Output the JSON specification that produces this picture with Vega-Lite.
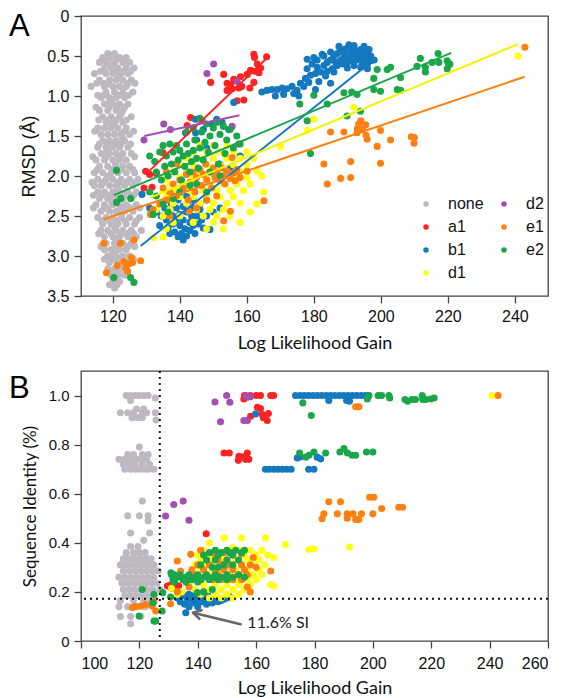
{
"$schema":"https://vega.github.io/schema/vega-lite/v6.json",
"background":"white",
"padding":{"left":8,"top":7,"right":5,"bottom":2},
"spacing":16,
"config":{
 "view":{"stroke":"#444","strokeWidth":1.3},
 "axis":{"grid":false,"domain":false,"labelOverlap":false,"tickColor":"#444","tickWidth":1.3,"tickSize":7,"labelColor":"#111","titleColor":"#111","titleFontWeight":"normal","labelFont":"Liberation Sans"}
},
"resolve":{"scale":{"color":"independent","stroke":"independent"}},
"datasets":{
"a":[
{"g":"none","x":118.5,"y":0.47},{"g":"none","x":120.5,"y":0.47},
{"g":"none","x":117,"y":0.52},{"g":"none","x":119.5,"y":0.52},{"g":"none","x":122,"y":0.52},{"g":"none","x":124,"y":0.52},
{"g":"none","x":116,"y":0.58},{"g":"none","x":118,"y":0.58},{"g":"none","x":120.5,"y":0.58},{"g":"none","x":123,"y":0.58},{"g":"none","x":125,"y":0.58},
{"g":"none","x":117.5,"y":0.65},{"g":"none","x":119.5,"y":0.65},{"g":"none","x":121.5,"y":0.65},{"g":"none","x":124,"y":0.65},{"g":"none","x":126.3,"y":0.65},
{"g":"none","x":114.5,"y":0.72},{"g":"none","x":118,"y":0.72},{"g":"none","x":120,"y":0.72},{"g":"none","x":122.5,"y":0.72},{"g":"none","x":124.5,"y":0.72},
{"g":"none","x":116,"y":0.8},{"g":"none","x":119,"y":0.8},{"g":"none","x":121,"y":0.8},{"g":"none","x":123,"y":0.8},{"g":"none","x":125.5,"y":0.8},
{"g":"none","x":113.5,"y":0.88},{"g":"none","x":117.5,"y":0.88},{"g":"none","x":120,"y":0.88},{"g":"none","x":122,"y":0.88},{"g":"none","x":124,"y":0.88},
{"g":"none","x":118,"y":0.95},{"g":"none","x":120.5,"y":0.95},{"g":"none","x":123,"y":0.95},{"g":"none","x":126,"y":0.95},
{"g":"none","x":116.5,"y":1.02},{"g":"none","x":119,"y":1.02},{"g":"none","x":121,"y":1.02},{"g":"none","x":123.5,"y":1.02},
{"g":"none","x":117.5,"y":1.1},{"g":"none","x":120,"y":1.1},{"g":"none","x":122,"y":1.1},{"g":"none","x":124.5,"y":1.1},
{"g":"none","x":116,"y":1.18},{"g":"none","x":118.5,"y":1.18},{"g":"none","x":121,"y":1.18},{"g":"none","x":123,"y":1.18},
{"g":"none","x":117,"y":1.26},{"g":"none","x":119.5,"y":1.26},{"g":"none","x":122,"y":1.26},{"g":"none","x":125.5,"y":1.26},
{"g":"none","x":118,"y":1.33},{"g":"none","x":120.5,"y":1.33},{"g":"none","x":123,"y":1.33},
{"g":"none","x":115.5,"y":1.4},{"g":"none","x":117.5,"y":1.4},{"g":"none","x":119.5,"y":1.4},{"g":"none","x":121.5,"y":1.4},{"g":"none","x":124,"y":1.4},
{"g":"none","x":116.5,"y":1.48},{"g":"none","x":118.5,"y":1.48},{"g":"none","x":120.5,"y":1.48},{"g":"none","x":122.5,"y":1.48},{"g":"none","x":125,"y":1.48},
{"g":"none","x":117,"y":1.56},{"g":"none","x":119,"y":1.56},{"g":"none","x":121,"y":1.56},{"g":"none","x":123.5,"y":1.56},
{"g":"none","x":115.5,"y":1.64},{"g":"none","x":118,"y":1.64},{"g":"none","x":120,"y":1.64},{"g":"none","x":122,"y":1.64},{"g":"none","x":124.5,"y":1.64},
{"g":"none","x":116.5,"y":1.72},{"g":"none","x":119,"y":1.72},{"g":"none","x":121,"y":1.72},{"g":"none","x":123,"y":1.72},{"g":"none","x":125.5,"y":1.72},
{"g":"none","x":115,"y":1.8},{"g":"none","x":117.5,"y":1.8},{"g":"none","x":120,"y":1.8},{"g":"none","x":122,"y":1.8},{"g":"none","x":124,"y":1.8},
{"g":"none","x":116,"y":1.88},{"g":"none","x":118.5,"y":1.88},{"g":"none","x":121,"y":1.88},{"g":"none","x":123,"y":1.88},{"g":"none","x":125,"y":1.88},
{"g":"none","x":114.5,"y":1.96},{"g":"none","x":117,"y":1.96},{"g":"none","x":119.5,"y":1.96},{"g":"none","x":121.5,"y":1.96},{"g":"none","x":124,"y":1.96},{"g":"none","x":126.5,"y":1.96},
{"g":"none","x":115.5,"y":2.04},{"g":"none","x":118,"y":2.04},{"g":"none","x":120,"y":2.04},{"g":"none","x":122.5,"y":2.04},{"g":"none","x":125,"y":2.04},{"g":"none","x":127.5,"y":2.04},
{"g":"none","x":114.5,"y":2.12},{"g":"none","x":116.5,"y":2.12},{"g":"none","x":119,"y":2.12},{"g":"none","x":121,"y":2.12},{"g":"none","x":123.5,"y":2.12},{"g":"none","x":126,"y":2.12},
{"g":"none","x":115.5,"y":2.2},{"g":"none","x":117.5,"y":2.2},{"g":"none","x":120,"y":2.2},{"g":"none","x":122,"y":2.2},{"g":"none","x":124.5,"y":2.2},{"g":"none","x":127,"y":2.2},
{"g":"none","x":116,"y":2.28},{"g":"none","x":118.5,"y":2.28},{"g":"none","x":121,"y":2.28},{"g":"none","x":123,"y":2.28},{"g":"none","x":125.5,"y":2.28},
{"g":"none","x":115,"y":2.36},{"g":"none","x":117.5,"y":2.36},{"g":"none","x":120,"y":2.36},{"g":"none","x":122,"y":2.36},{"g":"none","x":124,"y":2.36},{"g":"none","x":127,"y":2.36},
{"g":"none","x":116.5,"y":2.44},{"g":"none","x":119,"y":2.44},{"g":"none","x":121,"y":2.44},{"g":"none","x":123.5,"y":2.44},{"g":"none","x":126,"y":2.44},
{"g":"none","x":115.5,"y":2.52},{"g":"none","x":118,"y":2.52},{"g":"none","x":120,"y":2.52},{"g":"none","x":122.5,"y":2.52},{"g":"none","x":125,"y":2.52},{"g":"none","x":128,"y":2.52},
{"g":"none","x":117,"y":2.6},{"g":"none","x":119.5,"y":2.6},{"g":"none","x":121.5,"y":2.6},{"g":"none","x":124,"y":2.6},{"g":"none","x":126.5,"y":2.6},
{"g":"none","x":116.5,"y":2.68},{"g":"none","x":118.5,"y":2.68},{"g":"none","x":121,"y":2.68},{"g":"none","x":123,"y":2.68},{"g":"none","x":125.5,"y":2.68},{"g":"none","x":128.5,"y":2.68},
{"g":"none","x":117.5,"y":2.76},{"g":"none","x":120,"y":2.76},{"g":"none","x":122,"y":2.76},{"g":"none","x":124.5,"y":2.76},{"g":"none","x":127,"y":2.76},
{"g":"none","x":118,"y":2.84},{"g":"none","x":120.5,"y":2.84},{"g":"none","x":123,"y":2.84},{"g":"none","x":125.5,"y":2.84},
{"g":"none","x":117.5,"y":2.92},{"g":"none","x":119.5,"y":2.92},{"g":"none","x":122,"y":2.92},{"g":"none","x":124,"y":2.92},
{"g":"none","x":118.5,"y":3.0},{"g":"none","x":121,"y":3.0},{"g":"none","x":123,"y":3.0},{"g":"none","x":125,"y":3.0},
{"g":"none","x":119,"y":3.08},{"g":"none","x":121.5,"y":3.08},{"g":"none","x":124,"y":3.08},
{"g":"none","x":118.5,"y":3.16},{"g":"none","x":120.5,"y":3.16},{"g":"none","x":122.5,"y":3.16},
{"g":"none","x":119.5,"y":3.24},{"g":"none","x":121.5,"y":3.24},{"g":"none","x":123.5,"y":3.24},
{"g":"none","x":120,"y":3.32},{"g":"none","x":122,"y":3.32},{"g":"none","x":120.5,"y":3.4},
{"g":"none","x":118.8,"y":0.85},{"g":"none","x":121.2,"y":1.14},{"g":"none","x":119.8,"y":1.36},{"g":"none","x":122.8,"y":1.52},{"g":"none","x":118.2,"y":1.68},{"g":"none","x":120.8,"y":1.84},{"g":"none","x":118.6,"y":2.0},{"g":"none","x":121.6,"y":2.16},{"g":"none","x":119.6,"y":2.32},{"g":"none","x":122.6,"y":2.48},{"g":"none","x":120.6,"y":2.64},{"g":"none","x":121.6,"y":2.8},{"g":"none","x":120.2,"y":2.96},{"g":"none","x":122.2,"y":3.12},{"g":"none","x":119.6,"y":0.62},{"g":"none","x":121.8,"y":0.76},{"g":"none","x":119.2,"y":1.06},{"g":"none","x":122.5,"y":1.22},{"g":"none","x":120.6,"y":1.6},{"g":"none","x":124.2,"y":2.08},{"g":"none","x":117.4,"y":2.4},{"g":"none","x":124.6,"y":2.72},
{"g":"none","x":118.3,"y":0.55},{"g":"none","x":121,"y":0.55},{"g":"none","x":123.3,"y":0.55},
{"g":"none","x":116.3,"y":0.69},{"g":"none","x":120.7,"y":0.69},{"g":"none","x":123.2,"y":0.69},{"g":"none","x":125.3,"y":0.69},
{"g":"none","x":115.2,"y":0.84},{"g":"none","x":117.2,"y":0.84},{"g":"none","x":124.6,"y":0.84},{"g":"none","x":126.6,"y":0.84},
{"g":"none","x":115.5,"y":0.99},{"g":"none","x":117.3,"y":0.99},{"g":"none","x":122,"y":0.99},{"g":"none","x":124.7,"y":0.99},
{"g":"none","x":115,"y":1.14},{"g":"none","x":118.9,"y":1.14},{"g":"none","x":123.5,"y":1.14},
{"g":"none","x":115.8,"y":1.3},{"g":"none","x":118.6,"y":1.3},{"g":"none","x":121,"y":1.3},{"g":"none","x":124,"y":1.3},
{"g":"none","x":114.6,"y":1.44},{"g":"none","x":123.5,"y":1.44},{"g":"none","x":126.2,"y":1.44},
{"g":"none","x":116,"y":1.6},{"g":"none","x":118.3,"y":1.6},{"g":"none","x":122.4,"y":1.6},{"g":"none","x":125.3,"y":1.6},
{"g":"none","x":114,"y":1.76},{"g":"none","x":118,"y":1.76},{"g":"none","x":122,"y":1.76},{"g":"none","x":126.5,"y":1.76},
{"g":"none","x":115.4,"y":1.92},{"g":"none","x":120,"y":1.92},{"g":"none","x":122.5,"y":1.92},{"g":"none","x":126,"y":1.92},
{"g":"none","x":117.2,"y":2.08},{"g":"none","x":121.8,"y":2.08},{"g":"none","x":126.8,"y":2.08},{"g":"none","x":113.8,"y":2.08},
{"g":"none","x":114.2,"y":2.24},{"g":"none","x":116.8,"y":2.24},{"g":"none","x":119.2,"y":2.24},{"g":"none","x":123.3,"y":2.24},{"g":"none","x":126.2,"y":2.24},
{"g":"none","x":114.2,"y":2.4},{"g":"none","x":118.3,"y":2.4},{"g":"none","x":122.5,"y":2.4},{"g":"none","x":125.2,"y":2.4},{"g":"none","x":128,"y":2.4},
{"g":"none","x":116.8,"y":2.56},{"g":"none","x":119,"y":2.56},{"g":"none","x":121.2,"y":2.56},{"g":"none","x":123.6,"y":2.56},{"g":"none","x":127,"y":2.56},
{"g":"none","x":115.8,"y":2.72},{"g":"none","x":119.5,"y":2.72},{"g":"none","x":122.8,"y":2.72},{"g":"none","x":126.2,"y":2.72},
{"g":"none","x":116.5,"y":2.88},{"g":"none","x":121.2,"y":2.88},{"g":"none","x":124.5,"y":2.88},{"g":"none","x":126.5,"y":2.88},
{"g":"none","x":117.5,"y":3.04},{"g":"none","x":120,"y":3.04},{"g":"none","x":122.2,"y":3.04},{"g":"none","x":126.2,"y":3.04},
{"g":"none","x":119.8,"y":3.2},{"g":"none","x":121.6,"y":3.2},{"g":"none","x":124.3,"y":3.2},
{"g":"none","x":121.2,"y":3.36},{"g":"none","x":119,"y":3.36},
{"g":"none","x":170,"y":0.93},
{"g":"a1","x":162.1,"y":0.48},{"g":"a1","x":162.3,"y":0.52},{"g":"a1","x":165.9,"y":0.51},{"g":"a1","x":163.1,"y":0.6},{"g":"a1","x":161.1,"y":0.68},{"g":"a1","x":162.5,"y":0.69},{"g":"a1","x":163.6,"y":0.71},{"g":"a1","x":164.1,"y":0.65},{"g":"a1","x":160.1,"y":0.73},{"g":"a1","x":158.1,"y":0.76},{"g":"a1","x":156.6,"y":0.81},{"g":"a1","x":153.1,"y":0.73},{"g":"a1","x":149.2,"y":0.83},{"g":"a1","x":154.1,"y":0.84},{"g":"a1","x":155.1,"y":0.86},{"g":"a1","x":156.1,"y":0.79},{"g":"a1","x":157.6,"y":0.9},{"g":"a1","x":154.1,"y":0.93},{"g":"a1","x":155.6,"y":0.91},{"g":"a1","x":158.5,"y":0.88},{"g":"a1","x":162.1,"y":0.83},{"g":"a1","x":160.9,"y":0.9},{"g":"a1","x":157.1,"y":1.06},{"g":"a1","x":159.1,"y":1.05},{"g":"a1","x":143.2,"y":1.27},{"g":"a1","x":142.2,"y":1.37},{"g":"a1","x":129.8,"y":1.94},{"g":"a1","x":129.3,"y":2.15},{"g":"a1","x":131.7,"y":2.14},{"g":"a1","x":135,"y":1.71},{"g":"a1","x":133,"y":1.97},{"g":"a1","x":131,"y":1.98},
{"g":"b1","x":164.5,"y":0.95},{"g":"b1","x":166,"y":0.93},{"g":"b1","x":167.5,"y":0.92},{"g":"b1","x":169,"y":0.92},{"g":"b1","x":170.5,"y":0.9},{"g":"b1","x":172,"y":0.91},{"g":"b1","x":173.5,"y":0.88},{"g":"b1","x":175,"y":0.93},{"g":"b1","x":168.5,"y":1.0},{"g":"b1","x":171,"y":0.98},{"g":"b1","x":174,"y":0.97},{"g":"b1","x":176,"y":0.84},{"g":"b1","x":177,"y":0.88},{"g":"b1","x":178.5,"y":0.83},{"g":"b1","x":177.5,"y":0.78},{"g":"b1","x":179,"y":0.74},{"g":"b1","x":180.5,"y":0.72},{"g":"b1","x":178,"y":0.66},{"g":"b1","x":179.5,"y":0.6},{"g":"b1","x":181,"y":0.64},{"g":"b1","x":182,"y":0.7},{"g":"b1","x":183,"y":0.62},{"g":"b1","x":184,"y":0.58},{"g":"b1","x":185,"y":0.55},{"g":"b1","x":183.5,"y":0.75},{"g":"b1","x":181.5,"y":0.82},{"g":"b1","x":180,"y":0.52},{"g":"b1","x":185.5,"y":0.66},{"g":"b1","x":186,"y":0.5},{"g":"b1","x":187,"y":0.47},{"g":"b1","x":188,"y":0.44},{"g":"b1","x":189,"y":0.42},{"g":"b1","x":190,"y":0.4},{"g":"b1","x":191,"y":0.43},{"g":"b1","x":192,"y":0.41},{"g":"b1","x":193,"y":0.44},{"g":"b1","x":194,"y":0.42},{"g":"b1","x":195,"y":0.45},{"g":"b1","x":196,"y":0.47},{"g":"b1","x":197,"y":0.5},{"g":"b1","x":186.5,"y":0.58},{"g":"b1","x":188,"y":0.55},{"g":"b1","x":189.5,"y":0.52},{"g":"b1","x":191,"y":0.5},{"g":"b1","x":192.5,"y":0.48},{"g":"b1","x":194,"y":0.5},{"g":"b1","x":195.5,"y":0.53},{"g":"b1","x":197,"y":0.56},{"g":"b1","x":187,"y":0.62},{"g":"b1","x":188.5,"y":0.6},{"g":"b1","x":190,"y":0.58},{"g":"b1","x":191.5,"y":0.56},{"g":"b1","x":193,"y":0.55},{"g":"b1","x":194.5,"y":0.58},{"g":"b1","x":196,"y":0.6},{"g":"b1","x":190,"y":0.65},{"g":"b1","x":192,"y":0.62},{"g":"b1","x":194,"y":0.64},{"g":"b1","x":196,"y":0.66},{"g":"b1","x":189,"y":0.47},{"g":"b1","x":191,"y":0.46},{"g":"b1","x":193,"y":0.49},{"g":"b1","x":195,"y":0.38},{"g":"b1","x":192,"y":0.37},{"g":"b1","x":189,"y":0.52},{"g":"b1","x":196.5,"y":0.42},{"g":"b1","x":185,"y":0.45},{"g":"b1","x":183,"y":0.5},{"g":"b1","x":187.5,"y":0.38},{"g":"b1","x":190.5,"y":0.36},{"g":"b1","x":186,"y":0.7},{"g":"b1","x":181,"y":0.55},{"g":"b1","x":184,"y":0.69},{"g":"b1","x":178,"y":0.54},{"g":"b1","x":182.5,"y":0.48},{"g":"b1","x":180.5,"y":0.92},{"g":"b1","x":175.5,"y":1.0},{"g":"b1","x":198,"y":0.55},{"g":"b1","x":185,"y":0.84},{"g":"b1","x":156.1,"y":1.08},
{"g":"b1","x":134.5,"y":2.5},{"g":"b1","x":135.5,"y":2.4},{"g":"b1","x":136,"y":2.55},{"g":"b1","x":136.5,"y":2.65},{"g":"b1","x":137,"y":2.45},{"g":"b1","x":137.5,"y":2.35},{"g":"b1","x":138,"y":2.5},{"g":"b1","x":138,"y":2.6},{"g":"b1","x":138.5,"y":2.7},{"g":"b1","x":139,"y":2.4},{"g":"b1","x":139,"y":2.55},{"g":"b1","x":139.5,"y":2.3},{"g":"b1","x":140,"y":2.48},{"g":"b1","x":140,"y":2.62},{"g":"b1","x":140.5,"y":2.72},{"g":"b1","x":141,"y":2.38},{"g":"b1","x":141,"y":2.55},{"g":"b1","x":141.5,"y":2.66},{"g":"b1","x":142,"y":2.45},{"g":"b1","x":142,"y":2.75},{"g":"b1","x":142.5,"y":2.32},{"g":"b1","x":143,"y":2.58},{"g":"b1","x":143,"y":2.68},{"g":"b1","x":143.5,"y":2.5},{"g":"b1","x":144,"y":2.4},{"g":"b1","x":144,"y":2.62},{"g":"b1","x":144.5,"y":2.72},{"g":"b1","x":145,"y":2.5},{"g":"b1","x":145.5,"y":2.6},{"g":"b1","x":146,"y":2.42},{"g":"b1","x":146.5,"y":2.55},{"g":"b1","x":147,"y":2.65},{"g":"b1","x":148,"y":2.5},{"g":"b1","x":149,"y":2.67},{"g":"b1","x":137,"y":2.72},{"g":"b1","x":139.5,"y":2.76},{"g":"b1","x":141,"y":2.8},{"g":"b1","x":136,"y":2.3},{"g":"b1","x":138,"y":2.22},{"g":"b1","x":140,"y":2.2},{"g":"b1","x":142,"y":2.25},{"g":"b1","x":144,"y":2.3},{"g":"b1","x":146,"y":2.35},{"g":"b1","x":148,"y":2.3},{"g":"b1","x":134,"y":2.62},{"g":"b1","x":133,"y":2.45},{"g":"b1","x":128.7,"y":2.23},{"g":"b1","x":131,"y":2.4},{"g":"b1","x":150,"y":2.45},{"g":"b1","x":152,"y":2.4},
{"g":"b1","x":144.7,"y":1.46},{"g":"b1","x":147,"y":1.42},{"g":"b1","x":144.7,"y":1.29},{"g":"b1","x":149.6,"y":1.35},{"g":"b1","x":154.6,"y":1.42},{"g":"b1","x":152.6,"y":1.33},{"g":"b1","x":141.7,"y":1.46},{"g":"b1","x":151,"y":1.29},{"g":"b1","x":155,"y":1.9},{"g":"b1","x":152,"y":1.85},{"g":"b1","x":158,"y":1.75},{"g":"b1","x":145,"y":1.55},{"g":"b1","x":148,"y":1.65},
{"g":"d1","x":146,"y":1.62},{"g":"d1","x":150,"y":1.62},{"g":"d1","x":154,"y":1.62},
{"g":"d1","x":144,"y":1.7},{"g":"d1","x":148,"y":1.7},{"g":"d1","x":152,"y":1.7},{"g":"d1","x":156,"y":1.7},{"g":"d1","x":160,"y":1.7},
{"g":"d1","x":142,"y":1.78},{"g":"d1","x":146,"y":1.78},{"g":"d1","x":150,"y":1.78},{"g":"d1","x":154,"y":1.78},{"g":"d1","x":158,"y":1.78},{"g":"d1","x":162,"y":1.78},
{"g":"d1","x":140,"y":1.86},{"g":"d1","x":144,"y":1.86},{"g":"d1","x":148,"y":1.86},{"g":"d1","x":152,"y":1.86},{"g":"d1","x":156,"y":1.86},{"g":"d1","x":160,"y":1.86},
{"g":"d1","x":138,"y":1.94},{"g":"d1","x":142,"y":1.94},{"g":"d1","x":146,"y":1.94},{"g":"d1","x":150,"y":1.94},{"g":"d1","x":154,"y":1.94},{"g":"d1","x":158,"y":1.94},{"g":"d1","x":163,"y":1.94},
{"g":"d1","x":136,"y":2.02},{"g":"d1","x":140,"y":2.02},{"g":"d1","x":144,"y":2.02},{"g":"d1","x":148,"y":2.02},{"g":"d1","x":152,"y":2.02},{"g":"d1","x":156,"y":2.02},{"g":"d1","x":160,"y":2.02},
{"g":"d1","x":137,"y":2.1},{"g":"d1","x":141,"y":2.1},{"g":"d1","x":145,"y":2.1},{"g":"d1","x":149,"y":2.1},{"g":"d1","x":153,"y":2.1},{"g":"d1","x":157,"y":2.1},{"g":"d1","x":161,"y":2.1},
{"g":"d1","x":135,"y":2.18},{"g":"d1","x":139,"y":2.18},{"g":"d1","x":143,"y":2.18},{"g":"d1","x":147,"y":2.18},{"g":"d1","x":151,"y":2.18},{"g":"d1","x":155,"y":2.18},{"g":"d1","x":159,"y":2.18},
{"g":"d1","x":136,"y":2.26},{"g":"d1","x":140,"y":2.26},{"g":"d1","x":144,"y":2.26},{"g":"d1","x":148,"y":2.26},{"g":"d1","x":152,"y":2.26},{"g":"d1","x":156,"y":2.26},
{"g":"d1","x":134,"y":2.34},{"g":"d1","x":138,"y":2.34},{"g":"d1","x":142,"y":2.34},{"g":"d1","x":146,"y":2.34},{"g":"d1","x":150,"y":2.34},{"g":"d1","x":154,"y":2.34},{"g":"d1","x":158,"y":2.34},
{"g":"d1","x":133,"y":2.42},{"g":"d1","x":137,"y":2.42},{"g":"d1","x":145,"y":2.42},{"g":"d1","x":149,"y":2.42},{"g":"d1","x":153,"y":2.42},
{"g":"d1","x":135,"y":2.5},{"g":"d1","x":140,"y":2.5},{"g":"d1","x":147,"y":2.5},{"g":"d1","x":151,"y":2.5},{"g":"d1","x":155,"y":2.5},
{"g":"d1","x":138,"y":2.58},{"g":"d1","x":144,"y":2.58},{"g":"d1","x":150,"y":2.58},{"g":"d1","x":158,"y":2.58},
{"g":"d1","x":136,"y":2.66},{"g":"d1","x":148,"y":2.66},{"g":"d1","x":153,"y":2.66},{"g":"d1","x":135,"y":2.76},{"g":"d1","x":132.2,"y":2.77},
{"g":"d1","x":164.5,"y":2.0},{"g":"d1","x":165,"y":2.2},{"g":"d1","x":163,"y":2.35},{"g":"d1","x":161,"y":2.45},{"g":"d1","x":170,"y":1.63},{"g":"d1","x":178,"y":1.43},{"g":"d1","x":180,"y":1.29},{"g":"d1","x":191.9,"y":1.14},{"g":"d1","x":240.9,"y":0.5},
{"g":"d2","x":150.1,"y":0.6},{"g":"d2","x":148.1,"y":0.72},{"g":"d2","x":157.1,"y":0.82},{"g":"d2","x":129.3,"y":1.55},{"g":"d2","x":137.2,"y":1.42},{"g":"d2","x":146.7,"y":1.31},{"g":"d2","x":155.6,"y":1.38},{"g":"d2","x":135.2,"y":1.35},{"g":"d2","x":157.6,"y":1.6},
{"g":"e1","x":117.3,"y":2.84},{"g":"e1","x":122.3,"y":2.84},{"g":"e1","x":126.3,"y":2.8},{"g":"e1","x":118.1,"y":3.21},{"g":"e1","x":121.3,"y":3.12},{"g":"e1","x":123.3,"y":3.07},{"g":"e1","x":124.8,"y":3.1},{"g":"e1","x":128.3,"y":3.06},{"g":"e1","x":125.9,"y":3.08},{"g":"e1","x":124.4,"y":3.19},{"g":"e1","x":123.9,"y":3.15},{"g":"e1","x":125.6,"y":3.02},
{"g":"e1","x":131.2,"y":2.48},{"g":"e1","x":132,"y":2.42},{"g":"e1","x":134,"y":2.35},{"g":"e1","x":136,"y":2.3},{"g":"e1","x":135,"y":2.15},{"g":"e1","x":137,"y":2.2},{"g":"e1","x":138,"y":2.1},{"g":"e1","x":139,"y":2.25},{"g":"e1","x":140,"y":2.05},{"g":"e1","x":141,"y":2.15},{"g":"e1","x":142,"y":1.98},{"g":"e1","x":142.5,"y":2.3},{"g":"e1","x":143,"y":2.08},{"g":"e1","x":144,"y":1.95},{"g":"e1","x":144.5,"y":2.2},{"g":"e1","x":145,"y":2.02},{"g":"e1","x":146,"y":1.92},{"g":"e1","x":146.5,"y":2.12},{"g":"e1","x":147,"y":1.98},{"g":"e1","x":147.7,"y":1.85},{"g":"e1","x":148,"y":2.05},{"g":"e1","x":149,"y":1.95},{"g":"e1","x":149.5,"y":2.15},{"g":"e1","x":150,"y":1.9},{"g":"e1","x":150.5,"y":2.02},{"g":"e1","x":151,"y":1.96},{"g":"e1","x":152,"y":2.06},{"g":"e1","x":152.5,"y":1.9},{"g":"e1","x":153,"y":2.0},{"g":"e1","x":153.5,"y":2.1},{"g":"e1","x":154,"y":1.94},{"g":"e1","x":155,"y":2.03},{"g":"e1","x":155.6,"y":1.77},{"g":"e1","x":156,"y":1.96},{"g":"e1","x":156.5,"y":2.06},{"g":"e1","x":157,"y":1.92},{"g":"e1","x":158,"y":2.02},{"g":"e1","x":160.1,"y":1.94},{"g":"e1","x":165.1,"y":2.31},{"g":"e1","x":153.1,"y":2.56},{"g":"e1","x":155.1,"y":2.44},{"g":"e1","x":142.7,"y":2.44},{"g":"e1","x":137,"y":2.5},{"g":"e1","x":145,"y":2.4},{"g":"e1","x":148,"y":2.3},{"g":"e1","x":151,"y":2.25},{"g":"e1","x":139,"y":1.85},{"g":"e1","x":136,"y":1.95},
{"g":"e1","x":185,"y":1.45},{"g":"e1","x":189,"y":1.45},{"g":"e1","x":192.9,"y":1.46},{"g":"e1","x":193,"y":1.41},{"g":"e1","x":194,"y":1.31},{"g":"e1","x":195.5,"y":1.36},{"g":"e1","x":194.5,"y":1.42},{"g":"e1","x":195.6,"y":1.49},{"g":"e1","x":195.9,"y":1.54},{"g":"e1","x":199.9,"y":1.43},{"g":"e1","x":198.9,"y":1.63},{"g":"e1","x":202.9,"y":1.55},{"g":"e1","x":209.1,"y":1.51},{"g":"e1","x":210,"y":1.52},{"g":"e1","x":209.9,"y":1.59},{"g":"e1","x":183,"y":1.85},{"g":"e1","x":191,"y":1.82},{"g":"e1","x":199.9,"y":1.84},{"g":"e1","x":184,"y":2.1},{"g":"e1","x":188,"y":2.03},{"g":"e1","x":191,"y":2.02},{"g":"e1","x":243,"y":0.39},{"g":"e1","x":193.4,"y":1.35},
{"g":"e2","x":121.1,"y":1.93},{"g":"e2","x":121.1,"y":2.33},{"g":"e2","x":122.4,"y":2.28},{"g":"e2","x":125.3,"y":2.28},{"g":"e2","x":120.3,"y":3.27},{"g":"e2","x":125.3,"y":3.27},{"g":"e2","x":126.3,"y":3.33},
{"g":"e2","x":131,"y":1.75},{"g":"e2","x":132.5,"y":1.82},{"g":"e2","x":133,"y":1.95},{"g":"e2","x":134,"y":1.7},{"g":"e2","x":134.5,"y":2.05},{"g":"e2","x":135,"y":1.62},{"g":"e2","x":135.5,"y":1.88},{"g":"e2","x":136,"y":1.75},{"g":"e2","x":136.5,"y":2.0},{"g":"e2","x":137,"y":1.6},{"g":"e2","x":137.5,"y":1.85},{"g":"e2","x":138,"y":1.7},{"g":"e2","x":138.5,"y":1.95},{"g":"e2","x":139,"y":1.62},{"g":"e2","x":139.5,"y":1.8},{"g":"e2","x":140,"y":1.68},{"g":"e2","x":140.5,"y":2.05},{"g":"e2","x":141,"y":1.75},{"g":"e2","x":141.5,"y":1.88},{"g":"e2","x":142,"y":1.6},{"g":"e2","x":142.5,"y":1.72},{"g":"e2","x":143,"y":1.95},{"g":"e2","x":143.5,"y":1.82},{"g":"e2","x":144,"y":1.68},{"g":"e2","x":144.5,"y":1.55},{"g":"e2","x":145,"y":1.78},{"g":"e2","x":145.5,"y":1.9},{"g":"e2","x":146,"y":1.65},{"g":"e2","x":146.5,"y":1.45},{"g":"e2","x":147,"y":1.8},{"g":"e2","x":147.5,"y":1.58},{"g":"e2","x":148,"y":1.35},{"g":"e2","x":148.5,"y":1.7},{"g":"e2","x":149,"y":1.5},{"g":"e2","x":150,"y":1.4},{"g":"e2","x":150.5,"y":1.62},{"g":"e2","x":151,"y":1.33},{"g":"e2","x":151.5,"y":1.85},{"g":"e2","x":152,"y":1.48},{"g":"e2","x":153,"y":1.38},{"g":"e2","x":153.5,"y":1.72},{"g":"e2","x":154,"y":1.55},{"g":"e2","x":155,"y":1.42},{"g":"e2","x":156,"y":1.65},{"g":"e2","x":157,"y":1.5},{"g":"e2","x":158,"y":1.6},{"g":"e2","x":140,"y":2.2},{"g":"e2","x":138,"y":2.28},{"g":"e2","x":133,"y":2.25},{"g":"e2","x":131,"y":2.2},{"g":"e2","x":135,"y":2.35},{"g":"e2","x":132,"y":2.48},{"g":"e2","x":136.5,"y":2.45},{"g":"e2","x":143,"y":2.12},{"g":"e2","x":145,"y":2.1},{"g":"e2","x":149,"y":1.95},{"g":"e2","x":152,"y":2.0},{"g":"e2","x":148,"y":2.2},{"g":"e2","x":144,"y":1.4},{"g":"e2","x":146,"y":1.28},{"g":"e2","x":142,"y":1.45},
{"g":"e2","x":175.8,"y":1.1},{"g":"e2","x":178,"y":1.31},{"g":"e2","x":180,"y":0.99},{"g":"e2","x":179,"y":1.72},{"g":"e2","x":184,"y":1.1},{"g":"e2","x":189,"y":0.96},{"g":"e2","x":191.3,"y":0.95},{"g":"e2","x":192.9,"y":0.98},{"g":"e2","x":189.9,"y":1.25},{"g":"e2","x":193.9,"y":1.19},{"g":"e2","x":197.9,"y":0.78},{"g":"e2","x":197.9,"y":0.92},{"g":"e2","x":198.9,"y":0.67},{"g":"e2","x":199.9,"y":0.94},{"g":"e2","x":201.9,"y":0.67},{"g":"e2","x":202.9,"y":0.64},{"g":"e2","x":205.9,"y":0.77},{"g":"e2","x":204.9,"y":0.92},{"g":"e2","x":205.9,"y":0.93},{"g":"e2","x":210.8,"y":0.63},{"g":"e2","x":211.8,"y":0.53},{"g":"e2","x":213.3,"y":0.64},{"g":"e2","x":215.3,"y":0.58},{"g":"e2","x":217.1,"y":0.47},{"g":"e2","x":217.3,"y":0.58},{"g":"e2","x":219.8,"y":0.56},{"g":"e2","x":220.3,"y":0.61},{"g":"e2","x":220.6,"y":0.6},{"g":"e2","x":219.8,"y":0.66},{"g":"e2","x":213.3,"y":0.7}
],
"alines":[
{"g":"a1","x":129.8,"y":1.98,"x2":166.4,"y2":0.51},
{"g":"d2","x":129.4,"y":1.5,"x2":157.8,"y2":1.24},
{"g":"b1","x":128.3,"y":2.875,"x2":198.1,"y2":0.54},
{"g":"e2","x":120.3,"y":2.24,"x2":221,"y2":0.46},
{"g":"d1","x":131.2,"y":2.27,"x2":241,"y2":0.35},
{"g":"e1","x":117.3,"y":2.54,"x2":242.9,"y2":0.76}
],
"b":[
{"g":"none","x":115.5,"y":1.0},{"g":"none","x":117,"y":1.0},{"g":"none","x":118.5,"y":1.0},{"g":"none","x":120,"y":1.0},{"g":"none","x":121.5,"y":1.0},{"g":"none","x":123,"y":1.0},{"g":"none","x":125.5,"y":0.99},{"g":"none","x":117,"y":0.98},
{"g":"none","x":113.5,"y":0.93},{"g":"none","x":116,"y":0.93},{"g":"none","x":118,"y":0.93},{"g":"none","x":121,"y":0.93},{"g":"none","x":122.5,"y":0.93},{"g":"none","x":125.5,"y":0.93},{"g":"none","x":117.5,"y":0.91},{"g":"none","x":119.5,"y":0.91},{"g":"none","x":121,"y":0.91},{"g":"none","x":119,"y":0.945},{"g":"none","x":121.5,"y":0.945},{"g":"none","x":125.7,"y":0.9},
{"g":"none","x":120,"y":0.79},{"g":"none","x":116,"y":0.76},{"g":"none","x":118,"y":0.76},{"g":"none","x":121,"y":0.76},{"g":"none","x":123,"y":0.76},
{"g":"none","x":113,"y":0.74},{"g":"none","x":115,"y":0.74},{"g":"none","x":117,"y":0.74},{"g":"none","x":119,"y":0.74},{"g":"none","x":120.5,"y":0.74},{"g":"none","x":122.5,"y":0.74},
{"g":"none","x":114.5,"y":0.72},{"g":"none","x":116.5,"y":0.72},{"g":"none","x":118.5,"y":0.72},{"g":"none","x":121,"y":0.72},{"g":"none","x":123.5,"y":0.72},
{"g":"none","x":115,"y":0.7},{"g":"none","x":117,"y":0.7},{"g":"none","x":118.5,"y":0.7},{"g":"none","x":120,"y":0.7},{"g":"none","x":121.5,"y":0.7},{"g":"none","x":123,"y":0.7},{"g":"none","x":125,"y":0.7},
{"g":"none","x":121,"y":0.57},{"g":"none","x":116,"y":0.51},{"g":"none","x":120,"y":0.51},{"g":"none","x":123,"y":0.51},{"g":"none","x":123,"y":0.49},{"g":"none","x":117,"y":0.44},{"g":"none","x":123.5,"y":0.44},{"g":"none","x":121.5,"y":0.41},
{"g":"none","x":117,"y":0.385},{"g":"none","x":119.5,"y":0.385},
{"g":"none","x":115.5,"y":0.36},{"g":"none","x":118,"y":0.36},{"g":"none","x":120,"y":0.36},{"g":"none","x":122,"y":0.36},
{"g":"none","x":114.5,"y":0.335},{"g":"none","x":116.5,"y":0.335},{"g":"none","x":118.5,"y":0.335},{"g":"none","x":120.5,"y":0.335},{"g":"none","x":122.5,"y":0.335},{"g":"none","x":124,"y":0.335},
{"g":"none","x":113.5,"y":0.31},{"g":"none","x":115.5,"y":0.31},{"g":"none","x":117.5,"y":0.31},{"g":"none","x":119.5,"y":0.31},{"g":"none","x":121.5,"y":0.31},{"g":"none","x":123.5,"y":0.31},{"g":"none","x":125,"y":0.31},
{"g":"none","x":114.5,"y":0.285},{"g":"none","x":116.5,"y":0.285},{"g":"none","x":118.5,"y":0.285},{"g":"none","x":120.5,"y":0.285},{"g":"none","x":122.5,"y":0.285},{"g":"none","x":124.5,"y":0.285},{"g":"none","x":126.5,"y":0.285},
{"g":"none","x":113,"y":0.26},{"g":"none","x":115,"y":0.26},{"g":"none","x":117,"y":0.26},{"g":"none","x":119,"y":0.26},{"g":"none","x":121,"y":0.26},{"g":"none","x":123,"y":0.26},{"g":"none","x":125,"y":0.26},
{"g":"none","x":114,"y":0.235},{"g":"none","x":116,"y":0.235},{"g":"none","x":118,"y":0.235},{"g":"none","x":120,"y":0.235},{"g":"none","x":122,"y":0.235},{"g":"none","x":124,"y":0.235},{"g":"none","x":126,"y":0.235},
{"g":"none","x":114.5,"y":0.21},{"g":"none","x":116.5,"y":0.21},{"g":"none","x":118.5,"y":0.21},{"g":"none","x":120.5,"y":0.21},{"g":"none","x":122.5,"y":0.21},{"g":"none","x":124.5,"y":0.21},{"g":"none","x":127,"y":0.21},
{"g":"none","x":115,"y":0.185},{"g":"none","x":117,"y":0.185},{"g":"none","x":119,"y":0.185},{"g":"none","x":121,"y":0.185},{"g":"none","x":123,"y":0.185},{"g":"none","x":125,"y":0.185},
{"g":"none","x":113.5,"y":0.165},{"g":"none","x":118,"y":0.165},{"g":"none","x":121.5,"y":0.165},{"g":"none","x":124,"y":0.165},
{"g":"none","x":113,"y":0.14},{"g":"none","x":116,"y":0.14},{"g":"none","x":119,"y":0.14},{"g":"none","x":122,"y":0.14},
{"g":"none","x":113.5,"y":0.1},{"g":"none","x":117,"y":0.1},{"g":"none","x":120.5,"y":0.1},{"g":"none","x":117,"y":0.07},
{"g":"a1","x":156,"y":1.0},{"g":"a1","x":158,"y":1.0},{"g":"a1","x":160,"y":1.0},{"g":"a1","x":161.5,"y":1.0},{"g":"a1","x":165,"y":1.0},{"g":"a1","x":166,"y":1.0},{"g":"a1","x":155.8,"y":0.986},{"g":"a1","x":160.4,"y":0.952},{"g":"a1","x":161.5,"y":0.947},{"g":"a1","x":162.1,"y":0.923},{"g":"a1","x":164.2,"y":0.927},{"g":"a1","x":163.8,"y":0.898},{"g":"a1","x":158.1,"y":0.916},{"g":"a1","x":162.5,"y":0.91},
{"g":"a1","x":149,"y":0.766},{"g":"a1","x":150.8,"y":0.766},{"g":"a1","x":154.1,"y":0.753},{"g":"a1","x":157,"y":0.766},{"g":"a1","x":156.4,"y":0.74},{"g":"a1","x":157.5,"y":0.74},{"g":"a1","x":153.9,"y":0.736},{"g":"a1","x":155.5,"y":0.75},
{"g":"a1","x":142.9,"y":0.437},{"g":"a1","x":142.1,"y":0.364},{"g":"a1","x":129.6,"y":0.224},{"g":"a1","x":130.7,"y":0.228},{"g":"a1","x":132,"y":0.22},{"g":"a1","x":133.5,"y":0.225},{"g":"a1","x":131,"y":0.215},
{"g":"b1","x":173.5,"y":1.0},{"g":"b1","x":175,"y":1.0},{"g":"b1","x":176.5,"y":1.0},{"g":"b1","x":178,"y":1.0},{"g":"b1","x":179.5,"y":1.0},{"g":"b1","x":181,"y":1.0},{"g":"b1","x":182.5,"y":1.0},{"g":"b1","x":184,"y":1.0},{"g":"b1","x":185.5,"y":1.0},{"g":"b1","x":187,"y":1.0},{"g":"b1","x":188.5,"y":1.0},{"g":"b1","x":190,"y":1.0},{"g":"b1","x":191.5,"y":1.0},{"g":"b1","x":193,"y":1.0},{"g":"b1","x":194.5,"y":1.0},{"g":"b1","x":196,"y":1.0},{"g":"b1","x":197.5,"y":1.0},{"g":"b1","x":198.6,"y":1.0},
{"g":"b1","x":184.9,"y":0.98},{"g":"b1","x":191,"y":0.98},{"g":"b1","x":192,"y":0.977},{"g":"b1","x":159.8,"y":0.925},
{"g":"b1","x":163.2,"y":0.7},{"g":"b1","x":164.5,"y":0.7},{"g":"b1","x":166,"y":0.7},{"g":"b1","x":167.5,"y":0.7},{"g":"b1","x":169,"y":0.7},{"g":"b1","x":170.5,"y":0.7},{"g":"b1","x":172,"y":0.7},{"g":"b1","x":178,"y":0.7},{"g":"b1","x":179.8,"y":0.7},
{"g":"b1","x":174.1,"y":0.746},{"g":"b1","x":175,"y":0.75},{"g":"b1","x":180.9,"y":0.749},{"g":"b1","x":182.1,"y":0.742},
{"g":"b1","x":133,"y":0.175},{"g":"b1","x":134,"y":0.16},{"g":"b1","x":135,"y":0.185},{"g":"b1","x":135.5,"y":0.15},{"g":"b1","x":136.5,"y":0.17},{"g":"b1","x":137,"y":0.19},{"g":"b1","x":138,"y":0.155},{"g":"b1","x":138.5,"y":0.175},{"g":"b1","x":139.5,"y":0.165},{"g":"b1","x":140,"y":0.15},{"g":"b1","x":141,"y":0.18},{"g":"b1","x":141.5,"y":0.16},{"g":"b1","x":142.5,"y":0.17},{"g":"b1","x":143,"y":0.15},{"g":"b1","x":144,"y":0.165},{"g":"b1","x":145,"y":0.155},{"g":"b1","x":146,"y":0.17},{"g":"b1","x":147,"y":0.16},{"g":"b1","x":148,"y":0.165},{"g":"b1","x":149,"y":0.17},{"g":"b1","x":150,"y":0.175},{"g":"b1","x":151,"y":0.18},{"g":"b1","x":139,"y":0.19},{"g":"b1","x":143.5,"y":0.185},{"g":"b1","x":146,"y":0.185},{"g":"b1","x":135.9,"y":0.115},{"g":"b1","x":137,"y":0.14},{"g":"b1","x":140,"y":0.14},
{"g":"d1","x":149,"y":0.42},{"g":"d1","x":155,"y":0.42},{"g":"d1","x":163.2,"y":0.42},{"g":"d1","x":144,"y":0.4},{"g":"d1","x":152,"y":0.38},
{"g":"d1","x":142,"y":0.37},{"g":"d1","x":146,"y":0.37},{"g":"d1","x":150,"y":0.37},{"g":"d1","x":154,"y":0.37},{"g":"d1","x":158,"y":0.37},{"g":"d1","x":162,"y":0.37},
{"g":"d1","x":140,"y":0.35},{"g":"d1","x":144,"y":0.35},{"g":"d1","x":148,"y":0.35},{"g":"d1","x":152,"y":0.35},{"g":"d1","x":156,"y":0.35},{"g":"d1","x":160,"y":0.35},{"g":"d1","x":164,"y":0.35},
{"g":"d1","x":141,"y":0.33},{"g":"d1","x":145,"y":0.33},{"g":"d1","x":149,"y":0.33},{"g":"d1","x":153,"y":0.33},{"g":"d1","x":157,"y":0.33},{"g":"d1","x":161,"y":0.33},
{"g":"d1","x":139,"y":0.31},{"g":"d1","x":143,"y":0.31},{"g":"d1","x":147,"y":0.31},{"g":"d1","x":151,"y":0.31},{"g":"d1","x":155,"y":0.31},{"g":"d1","x":159,"y":0.31},{"g":"d1","x":163,"y":0.31},
{"g":"d1","x":141,"y":0.29},{"g":"d1","x":145,"y":0.29},{"g":"d1","x":149,"y":0.29},{"g":"d1","x":153,"y":0.29},{"g":"d1","x":157,"y":0.29},{"g":"d1","x":161,"y":0.29},
{"g":"d1","x":138,"y":0.27},{"g":"d1","x":143,"y":0.27},{"g":"d1","x":147,"y":0.27},{"g":"d1","x":151,"y":0.27},{"g":"d1","x":155,"y":0.27},{"g":"d1","x":159,"y":0.27},{"g":"d1","x":162,"y":0.27},
{"g":"d1","x":140,"y":0.25},{"g":"d1","x":145,"y":0.25},{"g":"d1","x":149,"y":0.25},{"g":"d1","x":153,"y":0.25},{"g":"d1","x":157,"y":0.25},{"g":"d1","x":160,"y":0.25},
{"g":"d1","x":137,"y":0.23},{"g":"d1","x":142,"y":0.23},{"g":"d1","x":146,"y":0.23},{"g":"d1","x":150,"y":0.23},{"g":"d1","x":154,"y":0.23},{"g":"d1","x":158,"y":0.23},{"g":"d1","x":165,"y":0.23},
{"g":"d1","x":139,"y":0.21},{"g":"d1","x":144,"y":0.21},{"g":"d1","x":148,"y":0.21},{"g":"d1","x":152,"y":0.21},{"g":"d1","x":156,"y":0.21},
{"g":"d1","x":141,"y":0.19},{"g":"d1","x":146,"y":0.19},{"g":"d1","x":150,"y":0.19},{"g":"d1","x":154,"y":0.19},
{"g":"d1","x":144,"y":0.175},{"g":"d1","x":148,"y":0.175},{"g":"d1","x":152,"y":0.175},
{"g":"d1","x":131,"y":0.215},{"g":"d1","x":133,"y":0.19},{"g":"d1","x":134.5,"y":0.2},{"g":"d1","x":166,"y":0.34},{"g":"d1","x":166,"y":0.224},{"g":"d1","x":170,"y":0.393},{"g":"d1","x":178.1,"y":0.373},{"g":"d1","x":179.9,"y":0.376},{"g":"d1","x":192,"y":0.383},{"g":"d1","x":240.9,"y":1.0},
{"g":"d2","x":145.9,"y":0.974},{"g":"d2","x":149.9,"y":1.0},{"g":"d2","x":151,"y":0.973},{"g":"d2","x":147.8,"y":0.893},{"g":"d2","x":155.8,"y":0.898},{"g":"d2","x":157,"y":0.898},{"g":"d2","x":157,"y":0.993},{"g":"d2","x":158,"y":0.995},{"g":"d2","x":156.5,"y":1.0},{"g":"d2","x":131.8,"y":0.556},{"g":"d2","x":135,"y":0.57},{"g":"d2","x":129,"y":0.509},{"g":"d2","x":137,"y":0.492},
{"g":"e1","x":146,"y":0.35},{"g":"e1","x":152,"y":0.35},
{"g":"e1","x":143,"y":0.33},{"g":"e1","x":147,"y":0.33},{"g":"e1","x":150,"y":0.33},{"g":"e1","x":154,"y":0.33},
{"g":"e1","x":140,"y":0.31},{"g":"e1","x":144,"y":0.31},{"g":"e1","x":148,"y":0.31},{"g":"e1","x":151,"y":0.31},{"g":"e1","x":155,"y":0.31},{"g":"e1","x":158,"y":0.31},
{"g":"e1","x":138,"y":0.29},{"g":"e1","x":142,"y":0.29},{"g":"e1","x":146,"y":0.29},{"g":"e1","x":149,"y":0.29},{"g":"e1","x":152,"y":0.29},{"g":"e1","x":156,"y":0.29},
{"g":"e1","x":139,"y":0.27},{"g":"e1","x":143,"y":0.27},{"g":"e1","x":147,"y":0.27},{"g":"e1","x":150,"y":0.27},{"g":"e1","x":154,"y":0.27},{"g":"e1","x":157,"y":0.27},
{"g":"e1","x":141,"y":0.25},{"g":"e1","x":145,"y":0.25},{"g":"e1","x":148,"y":0.25},{"g":"e1","x":152,"y":0.25},{"g":"e1","x":155,"y":0.25},
{"g":"e1","x":165,"y":0.285},{"g":"e1","x":134.1,"y":0.285},{"g":"e1","x":133,"y":0.326},{"g":"e1","x":137.6,"y":0.353},{"g":"e1","x":141,"y":0.37},{"g":"e1","x":149,"y":0.36},{"g":"e1","x":155,"y":0.355},{"g":"e1","x":159,"y":0.34},{"g":"e1","x":160,"y":0.3},{"g":"e1","x":133,"y":0.2},{"g":"e1","x":137,"y":0.22},{"g":"e1","x":142,"y":0.2},{"g":"e1","x":157,"y":0.22},{"g":"e1","x":158,"y":0.2},
{"g":"e1","x":117.6,"y":0.136},{"g":"e1","x":120.4,"y":0.142},{"g":"e1","x":122.2,"y":0.149},{"g":"e1","x":124.4,"y":0.142},{"g":"e1","x":125.6,"y":0.122},{"g":"e1","x":125,"y":0.16},{"g":"e1","x":130.7,"y":0.152},{"g":"e1","x":118.5,"y":0.14},
{"g":"e1","x":184.9,"y":0.567},{"g":"e1","x":188.9,"y":0.567},{"g":"e1","x":183.2,"y":0.518},{"g":"e1","x":182.6,"y":0.498},{"g":"e1","x":187.8,"y":0.518},{"g":"e1","x":191.2,"y":0.518},{"g":"e1","x":191.2,"y":0.5},{"g":"e1","x":193.2,"y":0.518},{"g":"e1","x":194.1,"y":0.495},{"g":"e1","x":195.2,"y":0.495},{"g":"e1","x":196.1,"y":0.518},{"g":"e1","x":198.9,"y":0.586},{"g":"e1","x":200.3,"y":0.586},{"g":"e1","x":200,"y":0.518},{"g":"e1","x":203,"y":0.54},{"g":"e1","x":208.9,"y":0.545},{"g":"e1","x":210.2,"y":0.545},{"g":"e1","x":194.1,"y":0.954},{"g":"e1","x":195.2,"y":0.954},{"g":"e1","x":242.9,"y":1.0},
{"g":"e2","x":146,"y":0.37},{"g":"e2","x":150,"y":0.37},{"g":"e2","x":153,"y":0.37},{"g":"e2","x":156,"y":0.37},
{"g":"e2","x":144,"y":0.36},{"g":"e2","x":148,"y":0.36},{"g":"e2","x":151,"y":0.36},{"g":"e2","x":155,"y":0.36},
{"g":"e2","x":142,"y":0.35},{"g":"e2","x":147,"y":0.35},{"g":"e2","x":152,"y":0.35},
{"g":"e2","x":143,"y":0.33},{"g":"e2","x":146,"y":0.33},{"g":"e2","x":150,"y":0.33},{"g":"e2","x":154,"y":0.33},
{"g":"e2","x":141,"y":0.31},{"g":"e2","x":149,"y":0.31},{"g":"e2","x":152,"y":0.31},{"g":"e2","x":145,"y":0.3},{"g":"e2","x":147,"y":0.3},
{"g":"e2","x":131,"y":0.27},{"g":"e2","x":134,"y":0.27},{"g":"e2","x":137,"y":0.27},{"g":"e2","x":140,"y":0.27},{"g":"e2","x":143,"y":0.27},{"g":"e2","x":146,"y":0.27},{"g":"e2","x":150,"y":0.27},{"g":"e2","x":154,"y":0.27},
{"g":"e2","x":133,"y":0.26},{"g":"e2","x":136,"y":0.26},{"g":"e2","x":139,"y":0.26},{"g":"e2","x":142,"y":0.26},{"g":"e2","x":145,"y":0.26},{"g":"e2","x":148,"y":0.26},{"g":"e2","x":152,"y":0.26},{"g":"e2","x":156,"y":0.26},
{"g":"e2","x":131.5,"y":0.25},{"g":"e2","x":135,"y":0.25},{"g":"e2","x":138,"y":0.25},{"g":"e2","x":141,"y":0.25},{"g":"e2","x":144,"y":0.25},{"g":"e2","x":147,"y":0.25},{"g":"e2","x":150,"y":0.25},
{"g":"e2","x":132,"y":0.24},{"g":"e2","x":136,"y":0.24},{"g":"e2","x":140,"y":0.24},
{"g":"e2","x":139.8,"y":0.197},{"g":"e2","x":142,"y":0.2},{"g":"e2","x":145,"y":0.21},
{"g":"e2","x":121,"y":0.21},{"g":"e2","x":119.9,"y":0.102},{"g":"e2","x":125,"y":0.081},{"g":"e2","x":125.6,"y":0.081},{"g":"e2","x":127.8,"y":0.122},{"g":"e2","x":125,"y":0.19},{"g":"e2","x":124.6,"y":0.156},{"g":"e2","x":128,"y":0.197},{"g":"e2","x":130.7,"y":0.179},{"g":"e2","x":130.8,"y":0.278},{"g":"e2","x":132,"y":0.27},
{"g":"e2","x":198.1,"y":0.986},{"g":"e2","x":198.6,"y":1.0},{"g":"e2","x":201.8,"y":1.0},{"g":"e2","x":203,"y":1.0},{"g":"e2","x":205.5,"y":1.0},{"g":"e2","x":205.8,"y":0.99},{"g":"e2","x":211,"y":0.984},{"g":"e2","x":211.9,"y":0.977},{"g":"e2","x":213.3,"y":0.984},{"g":"e2","x":214.6,"y":0.984},{"g":"e2","x":216.9,"y":1.0},{"g":"e2","x":217.1,"y":0.984},{"g":"e2","x":218.1,"y":0.984},{"g":"e2","x":219.8,"y":0.986},{"g":"e2","x":221,"y":0.99},{"g":"e2","x":176,"y":0.97},{"g":"e2","x":178.9,"y":0.919},
{"g":"e2","x":174.9,"y":0.766},{"g":"e2","x":177,"y":0.749},{"g":"e2","x":178.1,"y":0.757},{"g":"e2","x":179.8,"y":0.77},{"g":"e2","x":183.8,"y":0.766},{"g":"e2","x":188.7,"y":0.77},{"g":"e2","x":190.1,"y":0.784},{"g":"e2","x":191.3,"y":0.766},{"g":"e2","x":192.9,"y":0.757},{"g":"e2","x":194.1,"y":0.757},{"g":"e2","x":197.8,"y":0.77},{"g":"e2","x":200,"y":0.77}
],
"bvline":[{"v":127}],
"bhline":[{"v":0.172}],
"barrow":[
{"x":154.7,"y":0.068,"x2":138.8,"y2":0.114},
{"x":138.4,"y":0.115,"x2":141.3,"y2":0.125},
{"x":138.4,"y":0.115,"x2":140.6,"y2":0.09}
],
"bnote":[{"x":157,"y":0.073,"label":"11.6% SI"}]
},
"vconcat":[
{
"width":467,"height":280,
"title":{"text":"A","anchor":"start","frame":"group","font":"Liberation Sans","fontSize":31,"fontWeight":"normal","color":"#000","dx":-72,"dy":35,"offset":0},
"layer":[
{"data":{"name":"a"},
 "mark":{"type":"circle","size":50,"opacity":1},
 "encoding":{
  "x":{"field":"x","type":"quantitative","scale":{"domain":[110.5,249.9],"nice":false,"zero":false},
   "axis":{"values":[120,140,160,180,200,220,240],"labelOverlap":false,"title":"Log Likelihood Gain","titleFont":"Lato","titleFontSize":18,"titlePadding":10,"labelFontSize":16,"labelPadding":5}},
  "y":{"field":"y","type":"quantitative","scale":{"domain":[0,3.5],"reverse":true,"nice":false,"zero":false},
   "axis":{"values":[0,0.5,1,1.5,2,2.5,3,3.5],"labelOverlap":false,"tickCount":8,"labelExpr":"datum.value == 0 ? '0' : format(datum.value, '.1f')","title":"RMSD (Å)","titleFont":"Liberation Sans","titleFontSize":18,"titlePadding":8,"labelFontSize":16,"labelPadding":5}},
  "color":{"field":"g","type":"nominal",
   "scale":{"domain":["none","a1","b1","d1","d2","e1","e2"],"range":["#BEB8C0","#FF2222","#1479BF","#FFFF14","#A24FB3","#FF8010","#1BA64A"]},
   "legend":{"orient":"none","legendX":337,"legendY":180,"columns":2,"title":null,"symbolType":"circle","symbolSize":30,"symbolStrokeWidth":0,"labelFont":"Liberation Sans","labelFontSize":16,"labelColor":"#111","labelOffset":14,"columnPadding":12,"rowPadding":7,"padding":0}}
 }},
{"data":{"name":"alines"},
 "mark":{"type":"rule","strokeWidth":2},
 "encoding":{
  "x":{"field":"x","type":"quantitative","axis":{"values":[120,140,160,180,200,220,240],"labelOverlap":false}},
  "y":{"field":"y","type":"quantitative","axis":{"values":[0,0.5,1,1.5,2,2.5,3,3.5],"labelOverlap":false}},
  "x2":{"field":"x2"},
  "y2":{"field":"y2"},
  "stroke":{"field":"g","type":"nominal","scale":{"domain":["none","a1","b1","d1","d2","e1","e2"],"range":["#BEB8C0","#FF2222","#1479BF","#F2F20A","#A24FB3","#FF8010","#1BA64A"]},"legend":null}
 }}
]
},
{
"width":467,"height":270,
"title":{"text":"B","anchor":"start","frame":"group","font":"Liberation Sans","fontSize":31,"fontWeight":"normal","color":"#000","dx":-72,"dy":35,"offset":0},
"layer":[
{"data":{"name":"b"},
 "mark":{"type":"circle","size":50,"opacity":1},
 "encoding":{
  "x":{"field":"x","type":"quantitative","scale":{"domain":[100,260],"nice":false,"zero":false},
   "axis":{"values":[100,120,140,160,180,200,220,240,260],"labelOverlap":false,"title":"Log Likelihood Gain","titleFont":"Lato","titleFontSize":18,"titlePadding":8,"labelFontSize":16,"labelPadding":7}},
  "y":{"field":"y","type":"quantitative","scale":{"domain":[0,1.1],"nice":false,"zero":false},
   "axis":{"values":[0,0.2,0.4,0.6,0.8,1.0],"labelOverlap":false,"labelExpr":"datum.value == 0 ? '0' : format(datum.value, '.1f')","title":"Sequence Identity (%)","titleFont":"Lato","titleFontSize":17,"titlePadding":9,"labelFontSize":15,"labelPadding":5}},
  "color":{"field":"g","type":"nominal",
   "scale":{"domain":["none","a1","b1","d1","d2","e1","e2"],"range":["#BEB8C0","#FF2222","#1479BF","#FFFF14","#A24FB3","#FF8010","#1BA64A"]},
   "legend":null}
 }},
{"data":{"name":"bvline"},"mark":{"type":"rule","color":"#111","strokeWidth":2,"strokeDash":[2,4]},"encoding":{"x":{"field":"v","type":"quantitative"}}},
{"data":{"name":"bhline"},"mark":{"type":"rule","color":"#111","strokeWidth":2,"strokeDash":[2,4]},"encoding":{"y":{"field":"v","type":"quantitative"}}},
{"data":{"name":"barrow"},"mark":{"type":"rule","color":"#666","strokeWidth":2.5,"strokeCap":"round"},"encoding":{"x":{"field":"x","type":"quantitative"},"y":{"field":"y","type":"quantitative"},"x2":{"field":"x2"},"y2":{"field":"y2"}}},
{"data":{"name":"bnote"},"mark":{"type":"text","align":"left","baseline":"middle","font":"Lato","fontSize":16,"color":"#222"},"encoding":{"x":{"field":"x","type":"quantitative"},"y":{"field":"y","type":"quantitative"},"text":{"field":"label"}}}
]
}
]
}
